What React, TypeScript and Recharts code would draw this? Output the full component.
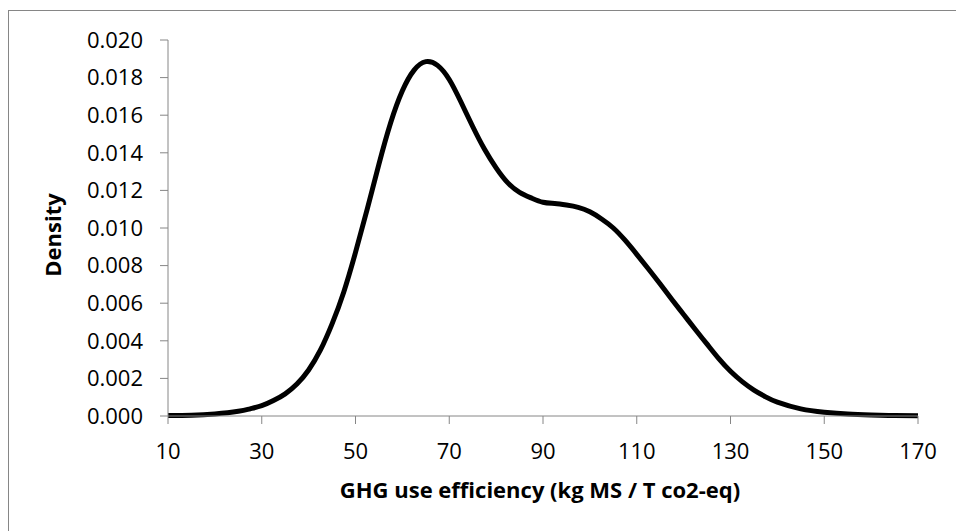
import React from 'react';
import { LineChart, Line, XAxis, YAxis } from 'recharts';

const xValues = [10, 15, 20, 25, 27.5, 30, 32.5, 35, 37.5, 40, 42.5, 45, 47.5, 50, 52.5, 55, 57.5, 60, 62.5, 65, 67.5, 70, 72.5, 75, 77.5, 80, 82.5, 85, 87.5, 90, 92.5, 95, 97.5, 100, 102.5, 105, 107.5, 110, 112.5, 115, 117.5, 120, 122.5, 125, 127.5, 130, 132.5, 135, 137.5, 140, 145, 150, 155, 160, 165, 170];
const densityValues = [0.00002, 0.00004, 0.00011, 0.00025, 0.00038, 0.00055, 0.00082, 0.00118, 0.0017, 0.00245, 0.0035, 0.0049, 0.0066, 0.0087, 0.0110, 0.0134, 0.0156, 0.0173, 0.0184, 0.01885, 0.01865, 0.0179, 0.0167, 0.0154, 0.0142, 0.0132, 0.0124, 0.0119, 0.0116, 0.01137, 0.0113, 0.01122, 0.0111, 0.01086, 0.01048, 0.0100, 0.00935, 0.0086, 0.00782, 0.00702, 0.0062, 0.0054, 0.0046, 0.00382, 0.00305, 0.00238, 0.00183, 0.00138, 0.00102, 0.00074, 0.00038, 0.0002, 0.0001, 0.00005, 0.00002, 0.00001];
const xTicks = [10, 30, 50, 70, 90, 110, 130, 150, 170];
const yTicks = [0, 0.002, 0.004, 0.006, 0.008, 0.01, 0.012, 0.014, 0.016, 0.018, 0.02];
const xTitle = 'GHG use efficiency (kg MS / T co2-eq)';
const yTitle = 'Density';

const data = xValues.map((x, i) => ({ x, d: densityValues[i] }));

const FONT = '"Open Sans", sans-serif';
const AXIS = '#868686';

export default function App() {
  return (
    <div style={{ position: 'fixed', left: 0, top: 0, width: 956, height: 531, overflow: 'hidden', background: '#fff' }}>
      <div style={{ position: 'absolute', left: 8, top: 10, width: 970, height: 540, border: `1px solid ${AXIS}`, boxSizing: 'border-box' }}>
        <LineChart width={948} height={520} data={data} margin={{ top: 29, right: 39, left: 0, bottom: 20 }}>
          <XAxis
            dataKey="x"
            type="number"
            domain={[10, 170]}
            ticks={xTicks}
            interval={0}
            height={95}
            stroke={AXIS}
            tickSize={8}
            tickMargin={19}
            tick={{ fill: '#000', fontSize: 22, fontFamily: FONT }}
            label={{
              content: (props: any) => {
                const vb = props.viewBox;
                return (
                  <text x={vb.x + vb.width / 2 - 3} y={vb.y + 82} textAnchor="middle" fontFamily={FONT} fontSize={22} fontWeight="bold" fill="#000">
                    {xTitle}
                  </text>
                );
              },
            }}
          />
          <YAxis
            type="number"
            domain={[0, 0.02]}
            ticks={yTicks}
            interval={0}
            width={159}
            stroke={AXIS}
            tickSize={8}
            tickMargin={17}
            tickFormatter={(v: number) => v.toFixed(3)}
            tick={{ fill: '#000', fontSize: 22, fontFamily: FONT }}
            label={{
              content: (props: any) => {
                const vb = props.viewBox;
                const cx = vb.x + 43;
                const cy = vb.y + vb.height / 2 + 7;
                return (
                  <text x={cx} y={cy} transform={`rotate(-90, ${cx}, ${cy})`} textAnchor="middle" dominantBaseline="central" fontFamily={FONT} fontSize={22} fontWeight="bold" fill="#000">
                    {yTitle}
                  </text>
                );
              },
            }}
          />
          <Line type="natural" dataKey="d" stroke="#000" strokeWidth={5} dot={false} isAnimationActive={false} />
        </LineChart>
      </div>
    </div>
  );
}
